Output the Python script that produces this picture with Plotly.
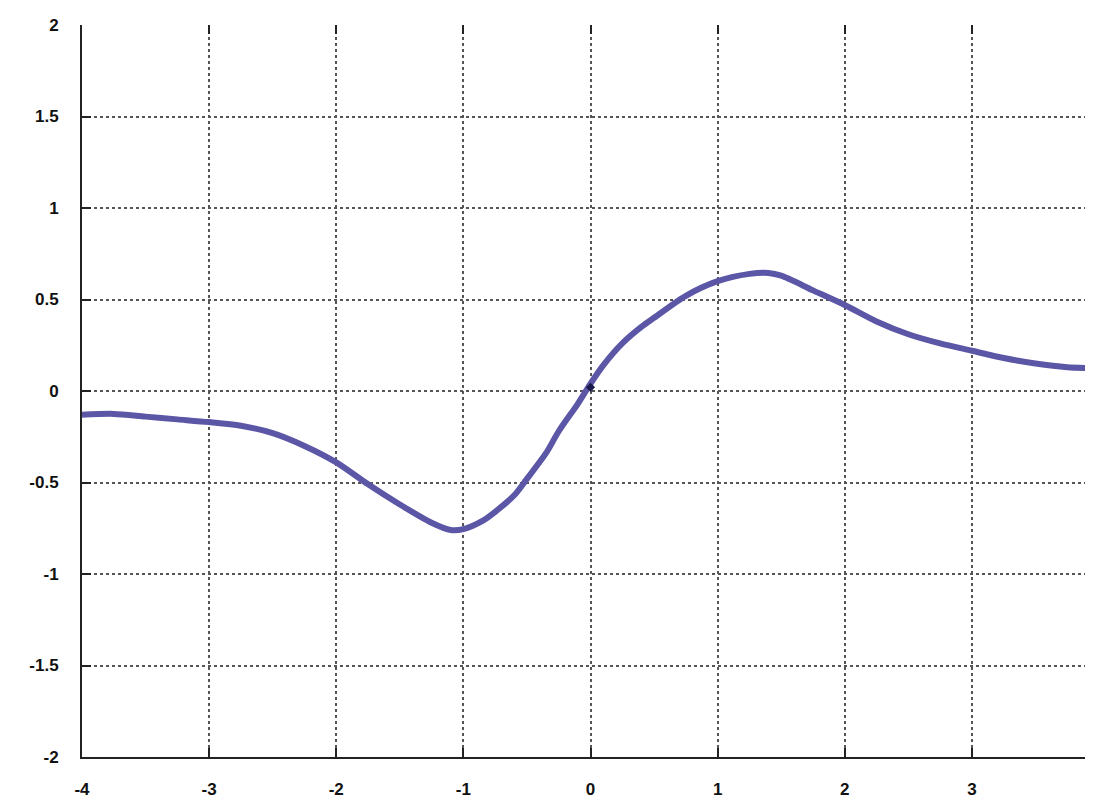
import plotly.graph_objects as go

# Curve values
x_vals = [-4.0, -3.75, -3.5, -3.25, -3.0, -2.75, -2.5, -2.25, -2.0, -1.75, -1.5, -1.25,
          -1.1, -1.0, -0.85, -0.75, -0.6, -0.5, -0.35, -0.25, -0.1, 0.0, 0.1, 0.25, 0.4,
          0.5, 0.75, 1.0, 1.25, 1.4, 1.5, 1.75, 2.0, 2.25, 2.5, 2.75, 3.0, 3.25, 3.5,
          3.75, 4.0]
y_vals = [-0.13, -0.125, -0.14, -0.155, -0.17, -0.19, -0.23, -0.30, -0.39, -0.51, -0.62, -0.72,
          -0.76, -0.755, -0.71, -0.66, -0.57, -0.48, -0.34, -0.22, -0.07, 0.04, 0.14, 0.26, 0.35,
          0.40, 0.52, 0.60, 0.64, 0.645, 0.63, 0.55, 0.47, 0.38, 0.31, 0.26, 0.22, 0.18, 0.15,
          0.13, 0.125]
mark_x = [0.0]
mark_y = [0.02]

x_ticks = [-4, -3, -2, -1, 0, 1, 2, 3, 4]
y_ticks = [-2, -1.5, -1, -0.5, 0, 0.5, 1, 1.5, 2]
y_labels = ["-2", "-1.5", "-1", "-0.5", "0", "0.5", "1", "1.5", "2"]
x_range = [-4, 4]
y_range = [-2, 2]

fig = go.Figure()
fig.add_trace(go.Scatter(x=x_vals, y=y_vals, mode="lines",
                         line=dict(color="#5b57a6", width=6, shape="spline", smoothing=0.8),
                         showlegend=False, hoverinfo="skip"))
fig.add_trace(go.Scatter(x=mark_x, y=mark_y, mode="markers",
                         marker=dict(color="#1c1a4a", size=7, symbol="diamond"),
                         showlegend=False, hoverinfo="skip"))
# invisible trace on top axis for mirrored ticks
fig.add_trace(go.Scatter(x=[x_range[0]], y=[0], xaxis="x2", mode="markers",
                         marker=dict(opacity=0), showlegend=False, hoverinfo="skip"))

tfont = dict(family="Liberation Sans, Arial, sans-serif", size=17, color="#111111", weight="bold")
grid = dict(showgrid=True, gridcolor="#555555", griddash="dot", gridwidth=1.5)
fig.update_layout(
    width=1093, height=798,
    margin=dict(l=74, r=0, t=17, b=49),
    paper_bgcolor="white", plot_bgcolor="white",
    font=dict(family="Liberation Sans, Arial, sans-serif", size=17, color="#111111"),
    xaxis=dict(range=x_range, tickvals=x_ticks, ticktext=[str(v) for v in x_ticks],
               ticks="inside", ticklen=9, tickwidth=2, tickcolor="#222222",
               showline=True, linecolor="#222222", linewidth=2, zeroline=False,
               tickfont=tfont, ticklabelstandoff=16, **grid),
    xaxis2=dict(range=x_range, overlaying="x", side="top", tickvals=x_ticks,
                showticklabels=False, ticks="inside", ticklen=9, tickwidth=2,
                tickcolor="#222222", showgrid=False, zeroline=False, showline=False),
    yaxis=dict(range=y_range, tickvals=y_ticks, ticktext=y_labels,
               ticks="inside", ticklen=9, tickwidth=2, tickcolor="#222222",
               showline=True, linecolor="#222222", linewidth=2, zeroline=False,
               mirror="ticks", tickfont=tfont, ticklabelstandoff=18, **grid),
)
fig.write_html("out.html")
